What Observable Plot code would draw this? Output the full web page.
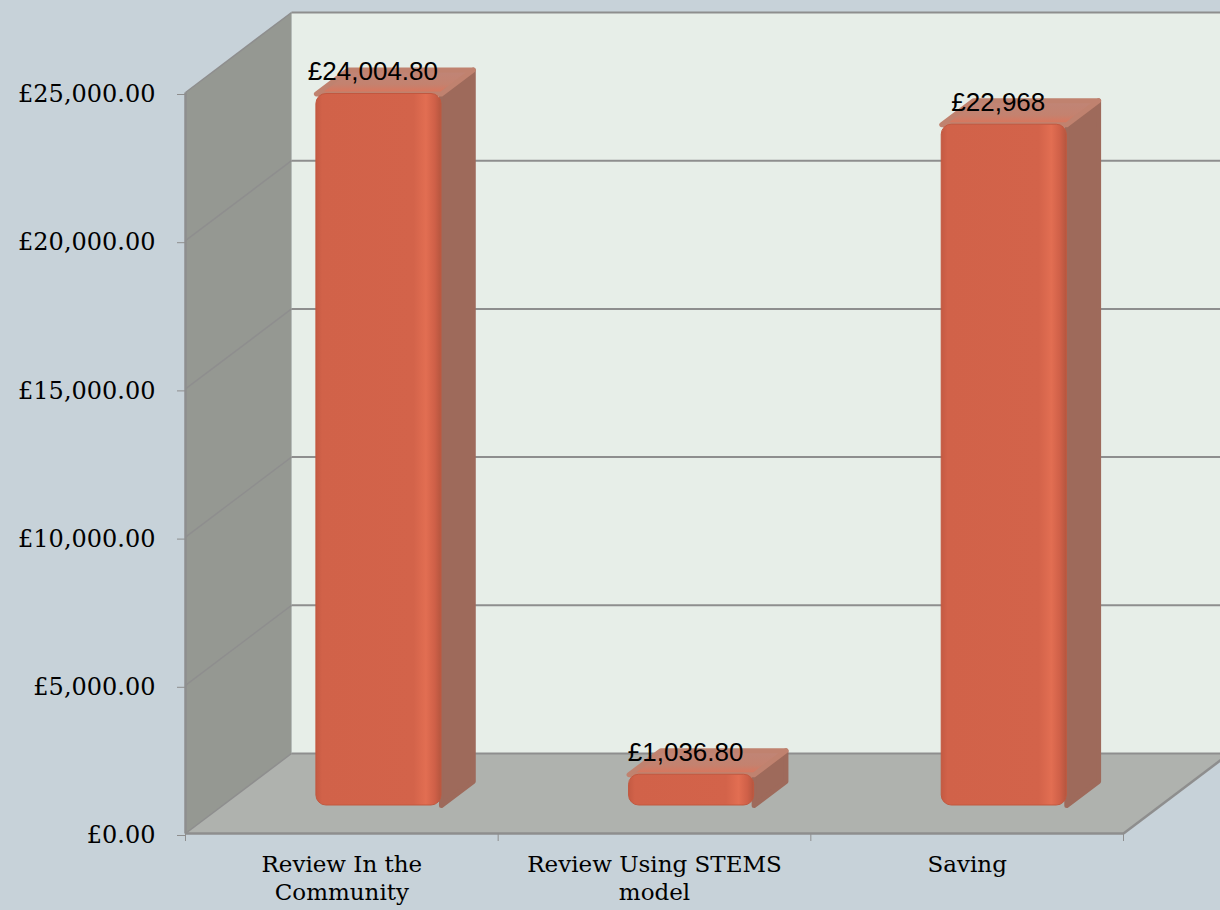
<!DOCTYPE html>
<html>
<head>
<meta charset="utf-8">
<script src="https://cdn.jsdelivr.net/npm/d3@7"></script>
<script src="https://cdn.jsdelivr.net/npm/@observablehq/plot@0.6"></script>
<style>
  html, body { margin: 0; padding: 0; background: #C7D2D9; }
  #chart svg { display: block; }
</style>
</head>
<body>
<svg width="0" height="0" style="position:absolute">
  <defs>
    <linearGradient id="barFront" x1="0" y1="0" x2="1" y2="0">
      <stop offset="0" stop-color="#C45A43"/>
      <stop offset="0.05" stop-color="#D16249"/>
      <stop offset="0.78" stop-color="#D3634A"/>
      <stop offset="0.88" stop-color="#E26E52"/>
      <stop offset="0.95" stop-color="#CF6048"/>
      <stop offset="1" stop-color="#B5563F"/>
    </linearGradient>
    <linearGradient id="barTop" x1="0" y1="0" x2="0" y2="1">
      <stop offset="0" stop-color="#BF8577"/>
      <stop offset="0.6" stop-color="#C4826F"/>
      <stop offset="1" stop-color="#DE7359"/>
    </linearGradient>
  </defs>
</svg>
<div id="chart"></div>
<script>
// ---- data ----
const categories = ["Review In the Community", "Review Using STEMS model", "Saving"];
const values = [24004.80, 1036.80, 22968];
const valueLabels = ["£24,004.80", "£1,036.80", "£22,968"];
const tickLabels = ["Review In the\nCommunity", "Review Using STEMS\nmodel", "Saving"];
const yTicks = [0, 5000, 10000, 15000, 20000, 25000];

// ---- layout ----
const W = 1220, H = 910;
const mL = 185, mR = 97, mT = 92, mB = 77;
const yMax = 25000;
const n = categories.length;
const kx = (W - mL - mR) / n;       // px per x unit
const ky = (H - mT - mB) / yMax;    // px per value unit
const DEPTH_X = 106, DEPTH_Y = 80;  // oblique depth in px
const d0 = 0.35, d1 = 0.65;         // bar front / back depth
const hw = 0.2;                     // half bar width (band units)

// oblique projection expressed in data space (scales are linear)
const P = (x, v, d) => ({x: x + d * DEPTH_X / kx, y: v + d * DEPTH_Y / ky});
const poly = (id, pts) => pts.map(([x, v, d]) => ({id, ...P(x, v, d)}));
const seg = (a, b) => { const p = P(...a), q = P(...b); return {x1: p.x, y1: p.y, x2: q.x, y2: q.y}; };

const bars = categories.map((c, i) => ({i, c, v: values[i], label: valueLabels[i]}));

const backWall = poly("back", [[0, 0, 1], [n + 0.5, 0, 1], [n + 0.5, yMax, 1], [0, yMax, 1]]);
const sideWall = poly("side", [[0, 0, 0], [0, 0, 1], [0, yMax, 1], [0, yMax, 0]]);
const floor = poly("floor", [[0, 0, 0], [n, 0, 0], [n, 0, 1], [0, 0, 1]]);

const backGrid = yTicks.map(v => seg([0, v, 1], [n + 0.5, v, 1]));
const sideGrid = yTicks.map(v => seg([0, v, 0], [0, v, 1]));
const edges = [
  seg([0, 0, 0], [0, yMax, 0]),   // value axis line
  seg([0, 0, 0], [n, 0, 0]),      // floor front edge
  seg([n, 0, 0], [n, 0, 1])       // floor right edge
];

const sideFaces = bars.flatMap(b => poly(b.i, [
  [b.i + 0.5 + hw, 0, d0], [b.i + 0.5 + hw, 0, d1],
  [b.i + 0.5 + hw, b.v, d1], [b.i + 0.5 + hw, b.v, d0]]));
const topFaces = bars.flatMap(b => poly(b.i, [
  [b.i + 0.5 - hw, b.v, d0], [b.i + 0.5 + hw, b.v, d0],
  [b.i + 0.5 + hw, b.v, d1], [b.i + 0.5 - hw, b.v, d1]]));

const grey = "#8E8E8E";
const fmt = d3.format(",.2f");

const chart = Plot.plot({
  width: W, height: H,
  marginLeft: mL, marginRight: mR, marginTop: mT, marginBottom: mB,
  style: {background: "#C7D2D9", fontFamily: "DejaVu Serif", color: "black"},
  x: {type: "linear", domain: [0, n], label: null},
  y: {type: "linear", domain: [0, yMax], label: null},
  marks: [
    Plot.line(backWall, {x: "x", y: "y", z: "id", fill: "#E7EEE8", stroke: null, curve: "linear-closed"}),
    Plot.line(floor, {x: "x", y: "y", z: "id", fill: "#AFB2AE", stroke: null, curve: "linear-closed"}),
    Plot.line(sideWall, {x: "x", y: "y", z: "id", fill: "#959892", stroke: null, curve: "linear-closed"}),
    Plot.link(backGrid, {x1: "x1", y1: "y1", x2: "x2", y2: "y2", stroke: grey, strokeWidth: 2}),
    Plot.link(sideGrid, {x1: "x1", y1: "y1", x2: "x2", y2: "y2", stroke: grey, strokeWidth: 1.5}),
    Plot.link(edges, {x1: "x1", y1: "y1", x2: "x2", y2: "y2", stroke: grey, strokeWidth: 2.5}),
    // bars: side, top, front
    Plot.line(sideFaces, {x: "x", y: "y", z: "id", fill: "#9E6A5B", stroke: "#9E6A5B", strokeWidth: 5, strokeLinejoin: "round", curve: "linear-closed"}),
    Plot.line(topFaces, {x: "x", y: "y", z: "id", fill: "url(#barTop)", stroke: "#C0826F", strokeWidth: 5, strokeLinejoin: "round", curve: "linear-closed"}),
    Plot.rect(bars, {
      x1: d => d.i + 0.5 - hw, x2: d => d.i + 0.5 + hw, y1: 0, y2: "v",
      dx: d0 * DEPTH_X, dy: -d0 * DEPTH_Y, rx: 10,
      fill: "url(#barFront)", stroke: "#C2583F", strokeWidth: 1
    }),
    // value labels
    Plot.text(bars, {
      x: d => d.i + 0.5, y: "v", text: "label",
      dx: d0 * DEPTH_X - 6, dy: -d1 * DEPTH_Y + 2,
      fontSize: 26, fontFamily: "Liberation Sans", fill: "black"
    }),
    // axes
    Plot.axisY({
      ticks: yTicks, tickSize: 8, tickPadding: 22,
      tickFormat: d => "£" + fmt(d),
      fontSize: 24, fontFamily: "DejaVu Serif", stroke: grey, fill: "black", dy: 2
    }),
    Plot.axisX({ticks: d3.range(n + 1), tickSize: 8, tickFormat: () => "", stroke: grey}),
    Plot.axisX({
      ticks: d3.range(n).map(i => i + 0.5), tickSize: 0, tickPadding: 19,
      tickFormat: x => tickLabels[Math.floor(x)],
      fontSize: 23, fontFamily: "DejaVu Serif", lineHeight: 1.2, fill: "black"
    })
  ]
});
document.getElementById("chart").append(chart);
</script>
</body>
</html>
